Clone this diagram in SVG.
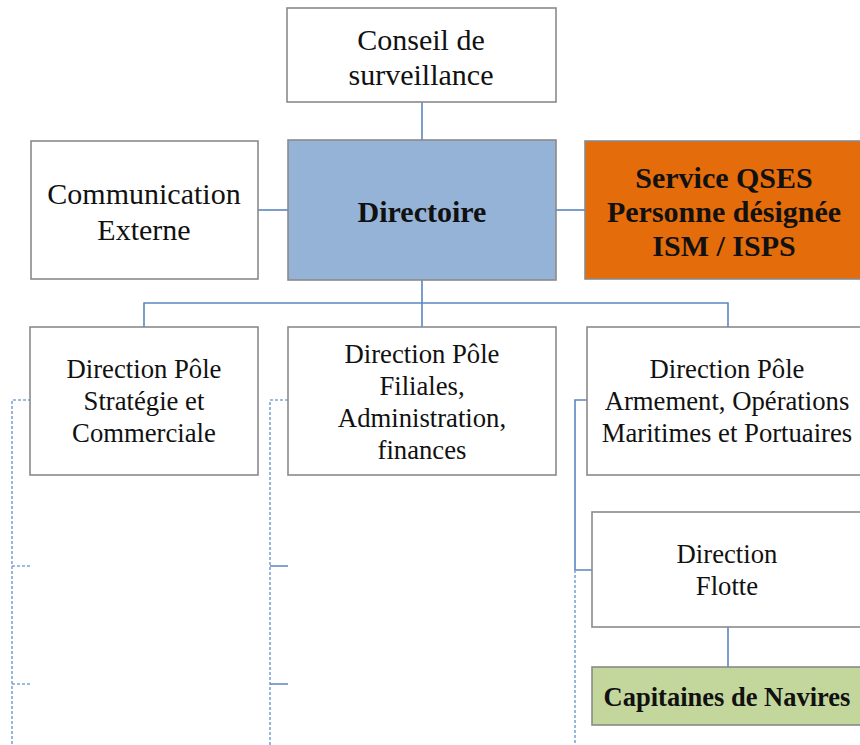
<svg xmlns="http://www.w3.org/2000/svg" width="860" height="745" viewBox="0 0 860 745">
<style>
.box{fill:#ffffff;stroke:#8a8a8a;stroke-width:1.6}
.t{font-family:"Liberation Serif","Times New Roman",serif;fill:#111;text-anchor:middle}
.big{font-size:30px}
.mid{font-size:26.7px}
.b{font-weight:bold}
.con{fill:none;stroke:#5b86c0;stroke-width:1.6}
.dash{fill:none;stroke:#7ea6d6;stroke-width:1.6;stroke-dasharray:3 2}
</style>
<rect width="860" height="745" fill="#ffffff"/>
<g id="connectors">
<path class="con" d="M422 102V140"/>
<path class="con" d="M258 210H288"/>
<path class="con" d="M556 210H585"/>
<path class="con" d="M422 280V327M144 327V303H728V327"/>
<path class="con" d="M728 627V667"/>
<path class="con" d="M587 400H575V570H592"/>
<path class="dash" d="M31 400H12V745M12 566H30M12 684H30"/>
<path class="dash" d="M288 400H270V745"/>
<path class="con" d="M270 566H288M270 684H288"/>
<path class="dash" d="M575 570V745"/>
</g>
<g id="conseil">
<rect class="box" x="287" y="8" width="269" height="94"/>
<text class="t big" x="421" y="50">Conseil de</text>
<text class="t big" x="421" y="85">surveillance</text>
</g>
<g id="communication">
<rect class="box" x="31" y="141" width="227" height="138"/>
<text class="t big" x="144" y="204">Communication</text>
<text class="t big" x="144" y="240">Externe</text>
</g>
<g id="directoire">
<rect class="box" x="288" y="140" width="268" height="140" style="fill:#95b3d7"/>
<text class="t big b" x="422" y="222">Directoire</text>
</g>
<g id="qses">
<rect class="box" x="585" y="141" width="280" height="138" style="fill:#e46c0a"/>
<text class="t big b" x="724" y="188">Service QSES</text>
<text class="t big b" x="724" y="222">Personne désignée</text>
<text class="t big b" x="724" y="256">ISM / ISPS</text>
</g>
<g id="pole-strategie">
<rect class="box" x="30" y="327" width="228" height="148"/>
<text class="t mid" x="144" y="378">Direction Pôle</text>
<text class="t mid" x="144" y="410">Stratégie et</text>
<text class="t mid" x="144" y="442">Commerciale</text>
</g>
<g id="pole-filiales">
<rect class="box" x="288" y="327" width="268" height="148"/>
<text class="t mid" x="422" y="363">Direction Pôle</text>
<text class="t mid" x="422" y="395">Filiales,</text>
<text class="t mid" x="422" y="427">Administration,</text>
<text class="t mid" x="422" y="459">finances</text>
</g>
<g id="pole-armement">
<rect class="box" x="587" y="327" width="280" height="148"/>
<text class="t mid" x="727" y="378">Direction Pôle</text>
<text class="t mid" x="727" y="410">Armement, Opérations</text>
<text class="t mid" x="727" y="442">Maritimes et Portuaires</text>
</g>
<g id="flotte">
<rect class="box" x="592" y="512" width="275" height="115"/>
<text class="t mid" x="727" y="563">Direction</text>
<text class="t mid" x="727" y="595">Flotte</text>
</g>
<g id="capitaines">
<rect class="box" x="592" y="667" width="275" height="58" style="fill:#c3d69b"/>
<text class="t b" x="727" y="706" style="font-size:26.5px">Capitaines de Navires</text>
</g>
</svg>
